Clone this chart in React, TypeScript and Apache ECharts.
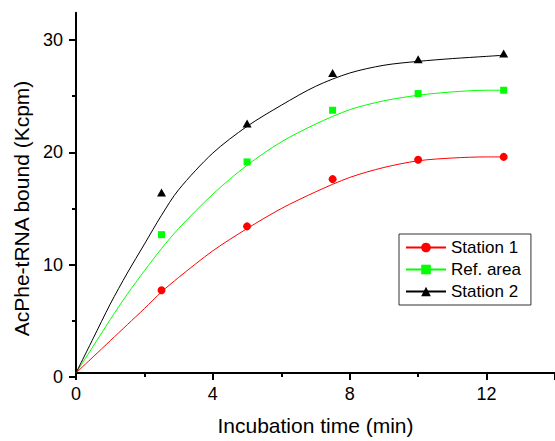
import React, { useEffect, useRef } from "react";
import * as echarts from "echarts";

// Measured points
const pointTimes = [2.5, 5, 7.5, 10, 12.5];
const station1Points = [7.45, 13.2, 17.45, 19.2, 19.45];
const refAreaPoints = [12.45, 19.0, 23.65, 25.15, 25.45];
const station2Points = [16.25, 22.45, 27.0, 28.25, 28.75];

// Fitted curves
const curveTimes = [0, 0.5, 1, 1.5, 2, 2.5, 3, 4, 5, 6, 7, 8, 9, 10, 11, 12, 12.5];
const station1Curve = [0, 1.45, 2.9, 4.35, 5.8, 7.3, 8.6, 11.0, 13.0, 14.8, 16.3, 17.6, 18.5, 19.1, 19.35, 19.45, 19.45];
const refAreaCurve = [0, 2.4, 4.8, 7.1, 9.2, 11.2, 13.0, 16.1, 18.7, 20.8, 22.4, 23.7, 24.5, 25.0, 25.3, 25.45, 25.45];
const station2Curve = [0, 3.1, 6.2, 9.0, 11.6, 14.2, 16.5, 19.8, 22.2, 24.1, 25.8, 27.0, 27.7, 28.05, 28.3, 28.5, 28.6];

const seriesNames = ["Station 1", "Ref. area", "Station 2"];
const seriesColors = ["#ff0000", "#00ff00", "#000000"];
const seriesSymbols = ["circle", "rect", "triangle"];
const seriesSymbolSizes: any[] = [8, 7, [9, 8]];

const xName = "Incubation time (min)";
const yName = "AcPhe-tRNA bound (Kcpm)";

const FONT = "'Liberation Sans', Arial, sans-serif";

export default function App() {
  const ref = useRef<HTMLDivElement>(null);
  useEffect(() => {
    if (!ref.current) return;
    const chart = echarts.init(ref.current, undefined, { renderer: "svg" });
    const curves = [station1Curve, refAreaCurve, station2Curve];
    const points = [station1Points, refAreaPoints, station2Points];
    const series: any[] = [];
    seriesNames.forEach((name, i) => {
      series.push({
        name,
        type: "line",
        xAxisIndex: 0,
        yAxisIndex: 0,
        data: curveTimes.map((t, k) => [t, curves[i][k]]),
        smooth: 0.3,
        symbol: seriesSymbols[i],
        symbolSize: seriesSymbolSizes[i],
        showSymbol: false,
        lineStyle: { color: seriesColors[i], width: 1 },
        itemStyle: { color: seriesColors[i] },
        z: 2,
      });
    });
    seriesNames.forEach((name, i) => {
      series.push({
        name: name + " data",
        type: "scatter",
        xAxisIndex: 0,
        yAxisIndex: 0,
        data: pointTimes.map((t, k) => [t, points[i][k]]),
        symbol: seriesSymbols[i],
        symbolSize: seriesSymbolSizes[i],
        itemStyle: { color: seriesColors[i], opacity: 1 },
        z: 3,
      });
    });

    const option: any = {
      animation: false,
      backgroundColor: "#ffffff",
      textStyle: { fontFamily: FONT },
      grid: [
        { left: 76, right: -3, top: 12.7, bottom: 64, containLabel: false },
        { left: 76, right: -3, top: 40, bottom: 64, containLabel: false },
      ],
      xAxis: [
        {
          type: "value",
          gridIndex: 0,
          min: 0,
          max: 14,
          interval: 4,
          name: xName,
          nameLocation: "middle",
          nameGap: 42,
          nameTextStyle: { fontSize: 21, color: "#000", fontFamily: FONT },
          axisLine: { show: true, lineStyle: { color: "#000", width: 2 } },
          axisTick: { show: true, length: 7, lineStyle: { color: "#000", width: 2 } },
          minorTick: { show: true, splitNumber: 2, length: 4, lineStyle: { color: "#000", width: 2 } },
          axisLabel: { fontSize: 18, color: "#000", margin: 12, showMaxLabel: false, fontFamily: FONT },
          splitLine: { show: false },
          minorSplitLine: { show: false },
        },
        {
          type: "value",
          gridIndex: 1,
          min: 0,
          max: 14,
          show: false,
        },
      ],
      yAxis: [
        {
          type: "value",
          gridIndex: 0,
          min: 0,
          max: 32.43,
          axisLine: { show: true, onZero: false, lineStyle: { color: "#000", width: 2 } },
          axisTick: { show: false },
          axisLabel: { show: false },
          splitLine: { show: false },
        },
        {
          type: "value",
          gridIndex: 1,
          min: 0,
          max: 30,
          interval: 10,
          name: yName,
          nameLocation: "middle",
          nameGap: 37,
          nameRotate: 90,
          nameTextStyle: { fontSize: 21, color: "#000", fontFamily: FONT },
          axisLine: { show: false },
          axisTick: { show: true, length: 7, lineStyle: { color: "#000", width: 2 } },
          minorTick: { show: true, splitNumber: 2, length: 4, lineStyle: { color: "#000", width: 2 } },
          axisLabel: { fontSize: 18, color: "#000", margin: 13, fontFamily: FONT },
          splitLine: { show: false },
          minorSplitLine: { show: false },
        },
      ],
      legend: {
        data: seriesNames,
        orient: "vertical",
        left: 399,
        top: 234,
        itemWidth: 40,
        itemHeight: 12,
        itemGap: 5,
        padding: [5, 10, 5, 6],
        borderColor: "#333",
        borderWidth: 1,
        backgroundColor: "#fff",
        textStyle: { fontSize: 17, color: "#000", fontFamily: FONT },
      },
      series,
    };
    chart.setOption(option);
    return () => chart.dispose();
  }, []);
  return (
    <div
      ref={ref}
      style={{ position: "absolute", left: 0, top: 0, width: 555, height: 441 }}
    />
  );
}
